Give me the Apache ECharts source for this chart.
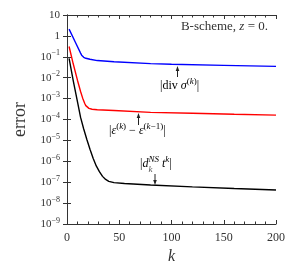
<!DOCTYPE html>
<html><head><meta charset="utf-8">
<script src="https://cdn.jsdelivr.net/npm/echarts@6/dist/echarts.min.js"></script>
<style>html,body{margin:0;padding:0;background:#fff}#c{width:300px;height:271px}</style>
</head><body><div id="c"></div>
<script>
// ---- data ----
const blueK = [2, 8, 13, 14, 15, 16, 18, 22, 29, 45, 80, 100, 150, 200];
const blueV = [2.1, 0.5, 0.15, 0.12, 0.105, 0.095, 0.085, 0.076, 0.066, 0.058, 0.047, 0.044, 0.039, 0.035];
const redK  = [2, 6, 10, 13, 15, 17, 18, 19, 21, 24, 29, 45, 80, 120, 160, 200];
const redV  = [0.31, 0.045, 7.6e-3, 2.2e-3, 1.05e-3, 5.8e-4, 4.6e-4, 3.9e-4, 3.4e-4, 3.1e-4, 2.95e-4, 2.7e-4, 2.2e-4, 2.0e-4, 1.78e-4, 1.62e-4];
const blackK = [2, 6, 10, 13, 16, 19, 22, 25, 28, 31, 34, 37, 40, 45, 55, 80, 120, 160, 200];
const blackV = [8.3e-2, 7.1e-3, 7.1e-4, 1.26e-4, 3.5e-5, 1.1e-5, 3.8e-6, 1.4e-6, 6.0e-7, 3.2e-7, 1.9e-7, 1.35e-7, 1.1e-7, 9.5e-8, 8.7e-8, 7.4e-8, 6.0e-8, 5.0e-8, 4.2e-8];
const yTickExponents = [1, 0, -1, -2, -3, -4, -5, -6, -7, -8, -9];
const xTickLabels = [0, 50, 100, 150, 200];

const FF = 'Liberation Serif';
const TXT = '#333';
const ANN = '#555';
const chart = echarts.init(document.getElementById('c'), null, {renderer: 'canvas'});

function yLabel(v) {
  const e = Math.round(Math.log10(v));
  if (yTickExponents.indexOf(e) < 0) return '';
  if (e === 1) return '{b|10}';
  if (e === 0) return '{b|1}';
  return '{b|10}{s|' + (e < 0 ? '\u2212' + (-e) : e) + '}';
}
function xLabel(v) { return xTickLabels.indexOf(v) >= 0 ? String(v) : ''; }

const axisLine = {show: true, lineStyle: {color: '#333', width: 1}};
const xCommon = {
  type: 'value', min: 0, max: 200, interval: 50,
  axisLine: axisLine,
  axisTick: {show: true, inside: true, length: 4, lineStyle: {color: '#333'}},
  minorTick: {show: true, splitNumber: 5, length: 2.5, lineStyle: {color: '#333'}},
  splitLine: {show: false}, minorSplitLine: {show: false}
};
const yCommon = {
  type: 'log', logBase: 10, min: 1e-9, max: 10, interval: 1,
  axisLine: axisLine,
  axisTick: {show: true, inside: true, length: 4, lineStyle: {color: '#333'}},
  minorTick: {show: false},
  splitLine: {show: false}, minorSplitLine: {show: false}
};

const richAnn = {
  r: {fontFamily: FF, fontSize: 12, color: ANN, lineHeight: 17},
  i: {fontFamily: FF, fontSize: 12, fontStyle: 'italic', color: ANN, lineHeight: 17},
  s: {fontFamily: FF, fontSize: 9, color: ANN, verticalAlign: 'top', lineHeight: 10},
  si: {fontFamily: FF, fontSize: 9, fontStyle: 'italic', color: ANN, verticalAlign: 'top', lineHeight: 10}
};

function arrow(x, yTail, yTip) {
  const dir = yTip < yTail ? 1 : -1; // 1 = head up
  return [
    {type: 'line', shape: {x1: x, y1: yTail, x2: x, y2: yTip + dir * 4}, style: {stroke: '#222', lineWidth: 1}, silent: true},
    {type: 'polygon', shape: {points: [[x, yTip], [x - 1.8, yTip + dir * 5], [x + 1.8, yTip + dir * 5]]}, style: {fill: '#222'}, silent: true}
  ];
}

const graphics = [].concat(
  [{type: 'text', right: 32, top: 20, style: {text: 'B-scheme, {i|z} = 0.', fontFamily: FF, fontSize: 13, fill: '#333',
     rich: {i: {fontFamily: FF, fontSize: 13, fontStyle: 'italic', color: '#333'}}}}],
  arrow(177.5, 77, 66),
  [{type: 'text', x: 160, y: 86, style: {text: '{r||div }{i|σ}{s|(}{si|k}{s|)}{r||}', rich: richAnn, verticalAlign: 'middle'}}],
  arrow(138.5, 125, 113),
  [{type: 'text', x: 109, y: 131, style: {text: '{r||}{i|ε}{s|(}{si|k}{s|)}{r| \u2212 }{i|ε}{s|(}{si|k}{s|\u22121)}{r||}', rich: richAnn, verticalAlign: 'middle'}}],
  arrow(155, 174, 185),
  [{type: 'text', x: 140, y: 164, style: {text: '{r||}{i|d}{si|NS}{i| t}{si|k}{r||}', rich: richAnn, verticalAlign: 'middle'}},
   {type: 'text', x: 148.5, y: 170, style: {text: 'k', fontFamily: FF, fontSize: 9, fontStyle: 'italic', fill: ANN, verticalAlign: 'middle'}}]
);

chart.setOption({
  animation: false,
  backgroundColor: '#fff',
  grid: {left: 67, right: 24, top: 15, bottom: 47, containLabel: false},
  xAxis: [
    Object.assign({}, xCommon, {position: 'bottom', name: 'k', nameLocation: 'middle', nameGap: 19,
      nameTextStyle: {fontFamily: FF, fontSize: 16, fontStyle: 'italic', color: TXT},
      axisLabel: {show: true, formatter: xLabel, fontFamily: FF, fontSize: 12, color: TXT, margin: 8}}),
    Object.assign({}, xCommon, {position: 'top', axisLabel: {show: false}})
  ],
  yAxis: [
    Object.assign({}, yCommon, {position: 'left', name: 'error', nameLocation: 'middle', nameGap: 29,
      nameTextStyle: {fontFamily: FF, fontSize: 18, color: TXT},
      axisLabel: {show: true, formatter: yLabel, margin: 7,
        rich: {b: {fontFamily: FF, fontSize: 11, color: TXT, lineHeight: 15},
               s: {fontFamily: FF, fontSize: 8, color: TXT, verticalAlign: 'top', lineHeight: 8}}}}),
    Object.assign({}, yCommon, {position: 'right', axisLabel: {show: false}})
  ],
  series: [
    {type: 'line', name: 'div', data: blueK.map((k, i) => [k, blueV[i]]), showSymbol: false, smooth: false,
     lineStyle: {color: '#0000ff', width: 1.4}, itemStyle: {color: '#0000ff'}},
    {type: 'line', name: 'eps', data: redK.map((k, i) => [k, redV[i]]), showSymbol: false, smooth: false,
     lineStyle: {color: '#ff0000', width: 1.4}, itemStyle: {color: '#ff0000'}},
    {type: 'line', name: 'd', data: blackK.map((k, i) => [k, blackV[i]]), showSymbol: false, smooth: false,
     lineStyle: {color: '#000000', width: 1.4}, itemStyle: {color: '#000'}}
  ],
  graphic: graphics
});
</script>
</body></html>
